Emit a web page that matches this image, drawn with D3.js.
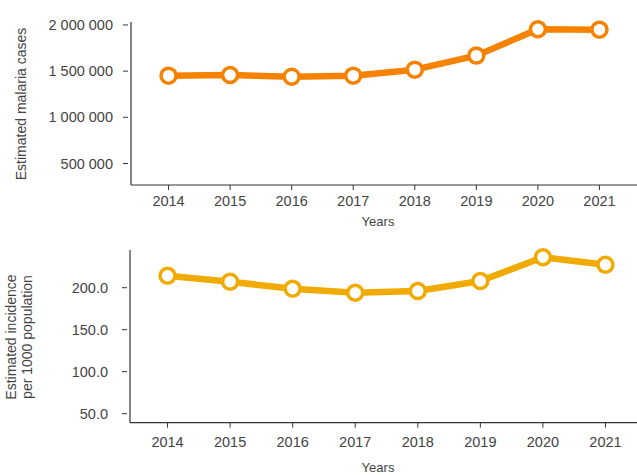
<!DOCTYPE html>
<html><head><meta charset="utf-8">
<script src="https://cdn.jsdelivr.net/npm/d3@7"></script>
<style>
body{margin:0;background:#fff;}
text{font-family:"Liberation Sans",Arial,Helvetica,sans-serif;fill:#444;}
</style></head>
<body>
<svg id="c" width="637" height="475"></svg>
<script>
const years = [2014,2015,2016,2017,2018,2019,2020,2021];
const cases = [1451000,1458000,1440000,1451000,1516000,1668000,1953000,1949000];
const incidence = [214.3,207.1,198.8,194.0,196.0,208.0,236.2,227.4];
const casesTicks = [500000,1000000,1500000,2000000];
const incTicks = [50,100,150,200];

const svg = d3.select("#c");
const loc = d3.formatLocale({decimal:".", thousands:" ", grouping:[3], currency:["",""]});
const fmtCases = loc.format(",.0f");
const fmtInc = d3.format(".1f");

function panel(cfg){
  const g = svg.append("g");
  const x = d3.scalePoint().domain(years).range(cfg.xr).padding(cfg.pad);
  const y = d3.scaleLinear().domain(cfg.yd).range(cfg.yr);
  g.append("line").attr("x1",cfg.xr[0]).attr("x2",637).attr("y1",cfg.yr[0]).attr("y2",cfg.yr[0])
    .attr("stroke","#333").attr("stroke-width",1.2);
  g.append("line").attr("x1",cfg.xr[0]).attr("x2",cfg.xr[0]).attr("y1",cfg.yr[0]).attr("y2",cfg.yr[1])
    .attr("stroke","#333").attr("stroke-width",1.2);
  const xt = g.selectAll(".xt").data(years).enter().append("g").attr("transform",d=>`translate(${x(d)},${cfg.yr[0]})`);
  xt.append("line").attr("y1",0).attr("y2",5).attr("stroke","#333");
  xt.append("text").attr("y",cfg.xlabDy).attr("text-anchor","middle").attr("font-size",14.5).text(d=>d);
  const yt = g.selectAll(".yt").data(cfg.ticks).enter().append("g").attr("transform",d=>`translate(${cfg.xr[0]},${y(d)})`);
  yt.append("line").attr("x1",-8).attr("x2",-3).attr("stroke","#333");
  yt.append("text").attr("x",cfg.ylabX).attr("dy","0.35em").attr("text-anchor","end").attr("font-size",14.5).text(cfg.fmt);
  g.append("text").attr("x",378).attr("y",cfg.yearsY).attr("text-anchor","middle").attr("font-size",13).text("Years");
  const tt = g.append("text").attr("transform",`translate(${cfg.titleX},${cfg.titleY}) rotate(-90)`)
    .attr("text-anchor","middle").attr("font-size",14);
  cfg.title.forEach((t,i)=>tt.append("tspan").attr("x",0).attr("dy",i===0?0:"1.15em").text(t));
  const pts = years.map((yr,i)=>[yr,cfg.vals[i]]);
  g.append("path").datum(pts).attr("fill","none").attr("stroke",cfg.color).attr("stroke-width",6.5)
    .attr("stroke-linejoin","round")
    .attr("d",d3.line().x(d=>x(d[0])).y(d=>y(d[1])));
  g.selectAll(".pt").data(pts).enter().append("circle")
    .attr("cx",d=>x(d[0])).attr("cy",d=>y(d[1])).attr("r",7.5)
    .attr("fill","#fff").attr("stroke",cfg.color).attr("stroke-width",3.5);
}

panel({xr:[131,637], pad:0.61, yd:[267000,2032000], yr:[185,22], ticks:casesTicks, fmt:fmtCases,
  ylabX:-18, xlabDy:21, yearsY:226, vals:cases, color:"#F58200",
  title:["Estimated malaria cases"], titleX:26, titleY:104});
panel({xr:[130,643], pad:0.6, yd:[39.3,244.9], yr:[422.7,250], ticks:incTicks, fmt:fmtInc,
  ylabX:-22, xlabDy:24, yearsY:472, vals:incidence, color:"#F0AA00",
  title:["Estimated incidence","per 1000 population"], titleX:16, titleY:337});
</script>
</body></html>
